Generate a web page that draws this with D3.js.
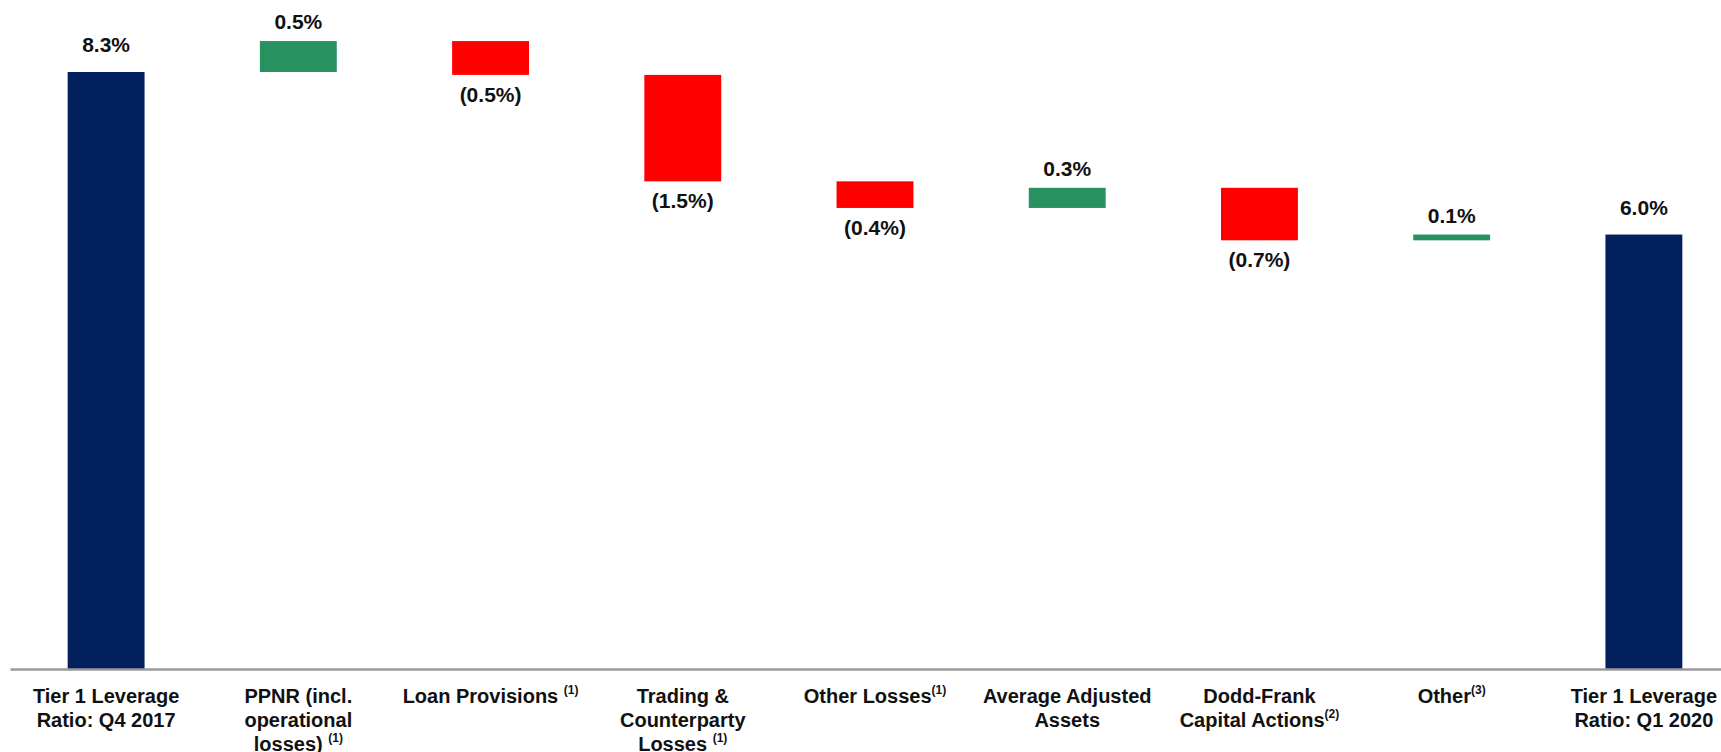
<!DOCTYPE html>
<html>
<head>
<meta charset="utf-8">
<script src="https://cdn.jsdelivr.net/npm/d3@7"></script>
<style>
  body { margin: 0; background: #fff; }
  svg { display: block; font-family: "Liberation Sans", Arial, sans-serif; }
  .value { font-size: 21px; font-weight: bold; fill: #111; }
  .cat { font-size: 20px; font-weight: bold; fill: #111; }
  .axis path { stroke: #9a9a9a; stroke-width: 2.5; }
</style>
</head>
<body>
<svg width="1721" height="752"></svg>
<script>
// categories (each line of the label, superscript kept apart)
const categories = [
    { lines: ['Tier 1 Leverage', 'Ratio: Q4 2017'], sup: '' },
    { lines: ['PPNR (incl.', 'operational', 'losses) '], sup: '(1)' },
    { lines: ['Loan Provisions '], sup: '(1)' },
    { lines: ['Trading &', 'Counterparty', 'Losses '], sup: '(1)' },
    { lines: ['Other Losses'], sup: '(1)' },
    { lines: ['Average Adjusted', 'Assets'], sup: '' },
    { lines: ['Dodd-Frank', 'Capital Actions'], sup: '(2)' },
    { lines: ['Other'], sup: '(3)' },
    { lines: ['Tier 1 Leverage', 'Ratio: Q1 2020'], sup: '' }
];
const startTotal = 8.3;
const deltas = [0.43, -0.47, -1.48, -0.37, 0.28, -0.73, 0.08];
const endTotal = 6.04;
const valueLabels = ['8.3%', '0.5%', '(0.5%)', '(1.5%)', '(0.4%)', '0.3%', '(0.7%)', '0.1%', '6.0%'];

const colors = { total: '#03205e', up: '#279160', down: '#ff0000' };

const svg = d3.select('svg');

// build waterfall steps
let run = startTotal;
const steps = [{ i: 0, y0: 0, y1: startTotal, type: 'total' }];
deltas.forEach((d, k) => {
    steps.push({ i: k + 1, y0: run, y1: run + d, type: d >= 0 ? 'up' : 'down' });
    run += d;
});
steps.push({ i: 8, y0: 0, y1: endTotal, type: 'total' });

const x = d3.scaleBand()
    .domain(d3.range(categories.length))
    .range([10, 1740])
    .paddingInner(0.6)
    .paddingOuter(0.3);

const y = d3.scaleLinear()
    .domain([0, 8.3])
    .range([669, 72]);

svg.selectAll('rect.bar')
    .data(steps)
    .enter()
    .append('rect')
    .attr('class', 'bar')
    .attr('x', d => x(d.i))
    .attr('width', x.bandwidth())
    .attr('y', d => y(Math.max(d.y0, d.y1)))
    .attr('height', d => Math.abs(y(d.y0) - y(d.y1)))
    .attr('fill', d => colors[d.type]);

// axis line
svg.append('g')
    .attr('class', 'axis')
    .attr('transform', 'translate(0, 669)')
    .call(d3.axisBottom(x).tickSize(0).tickFormat(''));

// value labels
svg.selectAll('text.value')
    .data(steps)
    .enter()
    .append('text')
    .attr('class', 'value')
    .attr('text-anchor', 'middle')
    .attr('x', d => x(d.i) + x.bandwidth() / 2)
    .attr('y', d => {
        if (d.type === 'down') return y(d.y1) + 27;
        if (d.type === 'total') return y(d.y1) - 20;
        return y(d.y1) - 12;
    })
    .text((d, i) => valueLabels[i]);

// category labels
categories.forEach((c, i) => {
    const cx = x(i) + x.bandwidth() / 2;
    const t = svg.append('text')
        .attr('class', 'cat')
        .attr('text-anchor', 'middle')
        .attr('x', cx)
        .attr('y', 703);
    c.lines.forEach((line, j) => {
        const span = t.append('tspan')
            .attr('x', cx)
            .attr('dy', j === 0 ? 0 : 24)
            .text(line);
        if (j === c.lines.length - 1 && c.sup) {
            t.append('tspan')
                .attr('font-size', 12)
                .attr('dy', -9)
                .text(c.sup);
        }
    });
});
</script>
</body>
</html>
